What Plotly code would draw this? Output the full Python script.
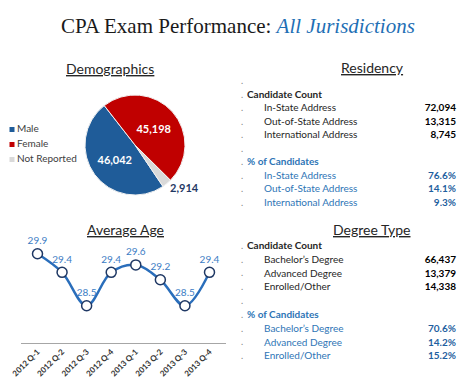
import plotly.graph_objects as go

W, H = 464, 386


def px(x):
    return x / W


def py(y):
    return 1 - y / H


# ---------------- data ----------------
gender_labels = ["Male", "Female", "Not Reported"]
gender_values = [46042, 45198, 2914]

quarters = ["2012 Q-1", "2012 Q-2", "2012 Q-3", "2012 Q-4",
            "2013 Q-1", "2013 Q-2", "2013 Q-3", "2013 Q-4"]
avg_age = [29.9, 29.4, 28.5, 29.4, 29.6, 29.2, 28.5, 29.4]

res_labels = ["In-State Address", "Out-of-State Address", "International Address"]
res_counts = [72094, 13315, 8745]
res_pcts = [76.6, 14.1, 9.3]

deg_labels = ["Bachelor\u2019s Degree", "Advanced Degree", "Enrolled/Other"]
deg_counts = [66437, 13379, 14338]
deg_pcts = [70.6, 14.2, 15.2]

# ---------------- styles ----------------
FONT = "Lato"
BLUE_TXT = "#2e75b6"
BLUE_VAL = "#1f5fa0"
DARK = "#262626"
GENDER_COLORS = ["#1f5c99", "#c00000", "#d9d9d9"]

fig = go.Figure()

# Pie
fig.add_trace(go.Pie(
    labels=gender_labels, values=gender_values, sort=False,
    direction="clockwise", rotation=146,
    marker=dict(colors=GENDER_COLORS, line=dict(color="#f2f2f2", width=1)),
    texttemplate="<b>%{value:,}</b>",
    textposition=["inside", "inside", "outside"],
    insidetextorientation="horizontal",
    textfont=dict(color=["white", "white", "#1f3864"], size=11, family=FONT),
    domain=dict(x=[px(84), px(186)], y=[py(195), py(95)]),
    automargin=False,
    showlegend=False,
))

# Legend for the pie (drawn as markers + labels)
leg_rows = list(range(len(gender_labels)))
fig.add_trace(go.Scatter(
    x=[0] * len(gender_labels), y=leg_rows, mode="markers",
    marker=dict(symbol="square", size=5, color=GENDER_COLORS),
    xaxis="x4", yaxis="y4", showlegend=False, hoverinfo="skip",
    cliponaxis=False,
))
fig.add_trace(go.Scatter(
    x=[5] * len(gender_labels), y=leg_rows, mode="text",
    text=gender_labels, textposition="middle right",
    textfont=dict(size=10, color="#404040", family=FONT),
    xaxis="x4", yaxis="y4", showlegend=False, hoverinfo="skip",
    cliponaxis=False,
))

# Line chart
fig.add_trace(go.Scatter(
    x=quarters, y=avg_age, mode="lines+markers+text",
    text=[f"{v:.1f}" for v in avg_age], textposition="top center",
    textfont=dict(color="#3b7cc4", size=10, family=FONT),
    line=dict(color="#2a6ebb", width=2.5, shape="spline"),
    marker=dict(size=10, color="white", line=dict(color="#1f3864", width=1.5)),
    xaxis="x", yaxis="y", showlegend=False, cliponaxis=False,
))


def table_rows(labels, counts, pcts, lead_blank):
    rows = []
    if lead_blank:
        rows.append(("", "", "blank"))
    rows.append(("Candidate Count", "", "h1"))
    for l, c in zip(labels, counts):
        rows.append((l, f"{c:,}", "c"))
    rows.append(("", "", "blank"))
    rows.append(("% of Candidates", "", "h2"))
    for l, p in zip(labels, pcts):
        rows.append((l, f"{p:.1f}%", "p"))
    return rows


TSIZE = 10


def add_table(rows, xa, ya):
    n = len(rows)
    idx = list(range(n))
    # dots
    fig.add_trace(go.Scatter(
        x=[10] * n, y=idx, mode="text", text=["."] * n,
        textposition="middle center",
        textfont=dict(color="#7f7f7f", size=9, family=FONT),
        xaxis=xa, yaxis=ya, showlegend=False, hoverinfo="skip",
        cliponaxis=False))
    lab_x, lab_t, lab_c = [], [], []
    val_x, val_t, val_c, val_y = [], [], [], []
    for i, (lab, val, kind) in enumerate(rows):
        if kind in ("h1", "h2"):
            lab_x.append(15)
            lab_t.append(f"<b>{lab}</b>")
        else:
            lab_x.append(32)
            lab_t.append(lab)
        lab_c.append(DARK if kind in ("h1", "c", "blank") else BLUE_TXT)
        if val:
            val_y.append(i)
            val_x.append(224)
            val_t.append(f"<b>{val}</b>")
            val_c.append("#000000" if kind == "c" else BLUE_VAL)
    fig.add_trace(go.Scatter(
        x=lab_x, y=idx, mode="text", text=lab_t, textposition="middle right",
        textfont=dict(color=lab_c, size=TSIZE, family=FONT),
        xaxis=xa, yaxis=ya, showlegend=False, hoverinfo="skip",
        cliponaxis=False))
    fig.add_trace(go.Scatter(
        x=val_x, y=val_y, mode="text", text=val_t, textposition="middle left",
        textfont=dict(color=val_c, size=TSIZE, family=FONT),
        xaxis=xa, yaxis=ya, showlegend=False, hoverinfo="skip",
        cliponaxis=False))
    return n


res_rows = table_rows(res_labels, res_counts, res_pcts, True)
deg_rows = table_rows(deg_labels, deg_counts, deg_pcts, False)
n_res = add_table(res_rows, "x2", "y2")
n_deg = add_table(deg_rows, "x3", "y3")

hidden = dict(visible=False, fixedrange=True, automargin=False)

fig.update_layout(
    width=W, height=H, margin=dict(l=0, r=0, t=0, b=0, autoexpand=False),
    paper_bgcolor="white", plot_bgcolor="white",
    font=dict(family=FONT, color=DARK),
    showlegend=False,
    xaxis=dict(domain=[px(21), px(226)], anchor="y", type="category",
               showline=True, linecolor="#a6a6a6", linewidth=1,
               ticks="", showgrid=False, zeroline=False, tickangle=-45,
               tickfont=dict(size=8, color="#333333", family=FONT, weight="bold"),
               fixedrange=True, automargin=False),
    yaxis=dict(domain=[py(343), py(250)], range=[27.5, 30.0], **hidden),
    xaxis2=dict(domain=[0.5, 1.0], range=[0, 232], anchor="y2", **hidden),
    yaxis2=dict(domain=[py(75 + 13.5 * n_res), py(75)],
                range=[n_res - 0.5, -0.5], anchor="x2", **hidden),
    xaxis3=dict(domain=[0.5, 1.0], range=[0, 232], anchor="y3", **hidden),
    yaxis3=dict(domain=[py(239.6 + 13.8 * n_deg), py(239.6)],
                range=[n_deg - 0.5, -0.5], anchor="x3", **hidden),
    xaxis4=dict(domain=[0.0, px(100)], range=[-12, 88], anchor="y4", **hidden),
    yaxis4=dict(domain=[py(167), py(122)], range=[2.5, -0.5], anchor="x4", **hidden),
)

annots = [
    dict(text="CPA Exam Performance: <i><span style='color:#1f6fb5'>All Jurisdictions</span></i>",
         x=px(59), y=py(26), xanchor="left",
         font=dict(family="Liberation Serif", size=21, color="#1a1a1a")),
    dict(text="<u>Demographics</u>", x=px(110), y=py(69),
         font=dict(family=FONT, size=14, color=DARK)),
    dict(text="<u>Residency</u>", x=px(372), y=py(68),
         font=dict(family=FONT, size=14, color=DARK)),
    dict(text="<u>Average Age</u>", x=px(125), y=py(229),
         font=dict(family=FONT, size=14, color=DARK)),
    dict(text="<u>Degree Type</u>", x=px(372), y=py(229),
         font=dict(family=FONT, size=14, color=DARK)),
]
for a in annots:
    a.setdefault("xanchor", "center")
    fig.add_annotation(xref="paper", yref="paper", showarrow=False,
                       yanchor="middle", **a)

fig.write_html("out.html", config={"displayModeBar": False},
               post_script="document.body.style.margin='0';")
